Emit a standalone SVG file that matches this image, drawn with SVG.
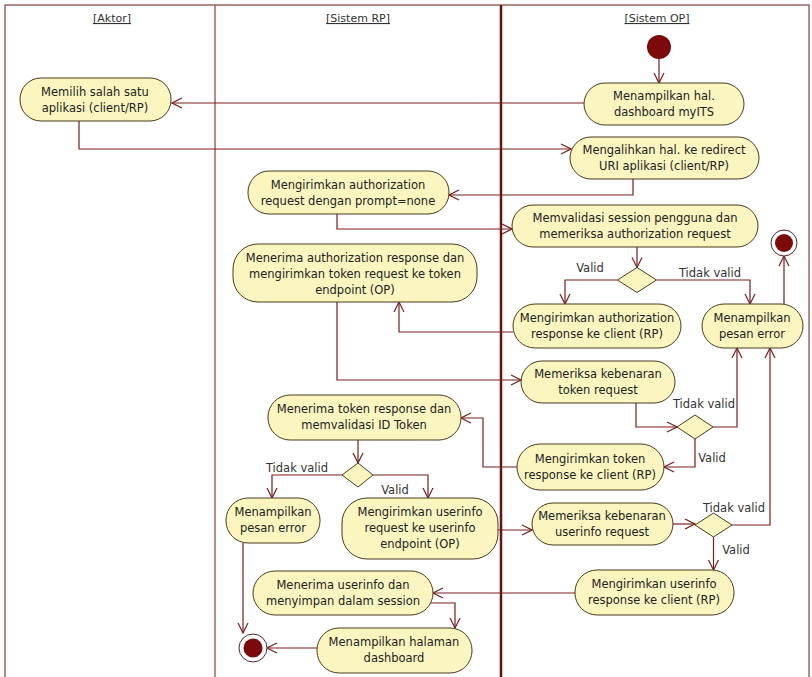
<svg xmlns="http://www.w3.org/2000/svg" width="812" height="677" viewBox="0 0 812 677">
<style>
.lane{fill:none;stroke:#9a6464;stroke-width:1.5}
.div2{stroke:#6e1010;stroke-width:2.5}
.hdr{font-family:"DejaVu Sans",sans-serif;font-size:11px;fill:#333;text-anchor:middle;text-decoration:underline}
.act{fill:#fbf6bf;stroke:#4a3b1b;stroke-width:1}
.t{font-family:"DejaVu Sans",sans-serif;font-size:11.5px;fill:#222;text-anchor:middle}
.lbl{font-family:"DejaVu Sans",sans-serif;font-size:11.5px;fill:#333;text-anchor:middle}
.c{fill:none;stroke:#7a1f1f;stroke-width:1.2;marker-end:url(#arr)}
.dot{fill:#7d0a0a}
.ring{fill:#fff;stroke:#4a2a2a;stroke-width:1}
</style>
<defs>
<marker id="arr" markerUnits="userSpaceOnUse" markerWidth="12" markerHeight="12" refX="11" refY="6" orient="auto">
<path d="M1,1 L11,6 L1,11" fill="none" stroke="#7a1f1f" stroke-width="1.2"/>
</marker>
</defs>
<rect width="812" height="677" fill="#fff"/>
<g id="lanes">
<path class="lane" d="M5,690 V5 H809 V690"/>
<line class="lane" x1="215" y1="5" x2="215" y2="690"/>
<line class="div2" x1="501" y1="5" x2="501" y2="690"/>
<text class="hdr" x="112" y="22">[Aktor]</text>
<text class="hdr" x="358" y="22">[Sistem RP]</text>
<text class="hdr" x="657" y="22">[Sistem OP]</text>
</g>
<g id="connectors">
<path class="c" d="M659,59 V83"/>
<path class="c" d="M584,103 H172"/>
<path class="c" d="M79,121 V149 H571"/>
<path class="c" d="M633,179 V195 H449"/>
<path class="c" d="M337,214 V229 H512"/>
<path class="c" d="M637,247 V267.5"/>
<path class="c" d="M617.5,280 H565 V304"/>
<path class="c" d="M656.5,280 H750 V304"/>
<path class="c" d="M784,304 V256"/>
<path class="c" d="M513,332 H399 V302"/>
<path class="c" d="M337,302 V380 H521"/>
<path class="c" d="M636,403 V427 H677"/>
<path class="c" d="M713,427 H737 V348"/>
<path class="c" d="M695,439 V467 H664"/>
<path class="c" d="M517,467 H483 V418 H461"/>
<path class="c" d="M358,440 V463"/>
<path class="c" d="M342,475 H272 V498"/>
<path class="c" d="M373,475 H428 V498"/>
<path class="c" d="M243,543 V633"/>
<path class="c" d="M498,530 H532"/>
<path class="c" d="M673,524 H695"/>
<path class="c" d="M732,525 H770 V348"/>
<path class="c" d="M713.5,537 V570"/>
<path class="c" d="M575,593 H433"/>
<path class="c" d="M431,603 H455 V628"/>
<path class="c" d="M317,648 H267"/>
</g>
<g id="start"><circle class="dot" cx="659" cy="47" r="12"/></g>
<g id="end1"><circle class="ring" cx="784" cy="243" r="13"/><circle class="dot" cx="784" cy="243" r="9"/></g>
<g id="end2"><circle class="ring" cx="253" cy="648" r="14"/><circle class="dot" cx="253" cy="648" r="9.5"/></g>
<g id="n_dashboard"><rect class="act" x="584" y="83" width="160" height="42" rx="21"/>
<text class="t" x="664" y="100">Menampilkan hal.</text><text class="t" x="664" y="116">dashboard myITS</text></g>
<g id="n_pilih"><rect class="act" x="20" y="78" width="151" height="43" rx="21"/>
<text class="t" x="95" y="96">Memilih salah satu</text><text class="t" x="95" y="112">aplikasi (client/RP)</text></g>
<g id="n_alihkan"><rect class="act" x="570" y="137" width="189" height="42" rx="21"/>
<text class="t" x="664" y="154">Mengalihkan hal. ke redirect</text><text class="t" x="664" y="170">URI aplikasi (client/RP)</text></g>
<g id="n_authreq"><rect class="act" x="248" y="171" width="201" height="43" rx="21"/>
<text class="t" x="348" y="189">Mengirimkan authorization</text><text class="t" x="348" y="205">request dengan prompt=none</text></g>
<g id="n_validasi"><rect class="act" x="512" y="205" width="246" height="42" rx="21"/>
<text class="t" x="635" y="222">Memvalidasi session pengguna dan</text><text class="t" x="635" y="238">memeriksa authorization request</text></g>
<g id="n_terima_auth"><rect class="act" x="233" y="244" width="244" height="58" rx="25"/>
<text class="t" x="355" y="262">Menerima authorization response dan</text><text class="t" x="355" y="278">mengirimkan token request ke token</text><text class="t" x="355" y="294">endpoint (OP)</text></g>
<g id="d1"><polygon class="act" points="637,267.5 656.5,280 637,292.5 617.5,280"/></g>
<g id="n_authresp"><rect class="act" x="513" y="304" width="168" height="44" rx="22"/>
<text class="t" x="597" y="322">Mengirimkan authorization</text><text class="t" x="597" y="338">response ke client (RP)</text></g>
<g id="n_err_op"><rect class="act" x="702" y="304" width="101" height="44" rx="22"/>
<text class="t" x="752" y="322">Menampilkan</text><text class="t" x="752" y="338">pesan error</text></g>
<g id="n_tokenreq"><rect class="act" x="521" y="361" width="154" height="42" rx="21"/>
<text class="t" x="598" y="378">Memeriksa kebenaran</text><text class="t" x="598" y="394">token request</text></g>
<g id="d2"><polygon class="act" points="695,415 713,427 695,439 677,427"/></g>
<g id="n_tokenresp"><rect class="act" x="517" y="444" width="147" height="46" rx="23"/>
<text class="t" x="590" y="463">Mengirimkan token</text><text class="t" x="590" y="479">response ke client (RP)</text></g>
<g id="n_terima_token"><rect class="act" x="268" y="395" width="193" height="45" rx="22"/>
<text class="t" x="364" y="413">Menerima token response dan</text><text class="t" x="364" y="429">memvalidasi ID Token</text></g>
<g id="d3"><polygon class="act" points="358,463 373,475 358,487 342,475"/></g>
<g id="n_err_rp"><rect class="act" x="226" y="498" width="94" height="45" rx="22"/>
<text class="t" x="273" y="516">Menampilkan</text><text class="t" x="273" y="532">pesan error</text></g>
<g id="n_uireq"><rect class="act" x="342" y="498" width="156" height="61" rx="25"/>
<text class="t" x="420" y="516">Mengirimkan userinfo</text><text class="t" x="420" y="532">request ke userinfo</text><text class="t" x="420" y="548">endpoint (OP)</text></g>
<g id="n_uicheck"><rect class="act" x="532" y="503" width="141" height="42" rx="21"/>
<text class="t" x="602" y="520">Memeriksa kebenaran</text><text class="t" x="602" y="536">userinfo request</text></g>
<g id="d4"><polygon class="act" points="713.5,513 732,525 713.5,537 695,525"/></g>
<g id="n_uiresp"><rect class="act" x="575" y="570" width="159" height="45" rx="22"/>
<text class="t" x="654" y="588">Mengirimkan userinfo</text><text class="t" x="654" y="604">response ke client (RP)</text></g>
<g id="n_uiterima"><rect class="act" x="253" y="571" width="180" height="44" rx="22"/>
<text class="t" x="343" y="589">Menerima userinfo dan</text><text class="t" x="343" y="605">menyimpan dalam session</text></g>
<g id="n_halaman"><rect class="act" x="317" y="628" width="155" height="45" rx="22"/>
<text class="t" x="394" y="646">Menampilkan halaman</text><text class="t" x="394" y="662">dashboard</text></g>
<g id="labels">
<text class="lbl" x="590" y="272">Valid</text>
<text class="lbl" x="710" y="277">Tidak valid</text>
<text class="lbl" x="704" y="408">Tidak valid</text>
<text class="lbl" x="712" y="462">Valid</text>
<text class="lbl" x="297" y="472">Tidak valid</text>
<text class="lbl" x="395" y="494">Valid</text>
<text class="lbl" x="734" y="512">Tidak valid</text>
<text class="lbl" x="736" y="554">Valid</text>
</g>
</svg>
